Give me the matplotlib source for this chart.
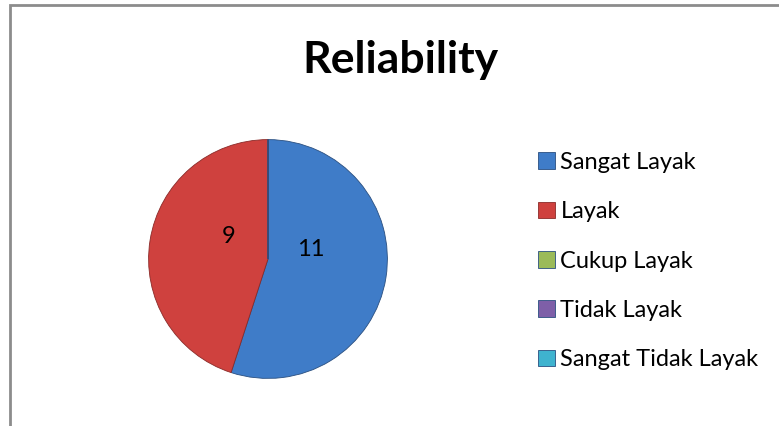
import matplotlib.pyplot as plt
from matplotlib.patches import Rectangle

labels = ['Sangat Layak', 'Layak', 'Cukup Layak', 'Tidak Layak', 'Sangat Tidak Layak']
values = [11, 9, 0, 0, 0]
colors = ['#3F7CC8', '#CF413E', '#9BBB59', '#7E5FA8', '#3FB3CF']
label_pos = [(0.36, 0.08), (-0.33, 0.19)]  # data label offsets inside the pie

plt.rcParams['font.family'] = ['Lato', 'DejaVu Sans']

fig = plt.figure(figsize=(7.79, 4.26), dpi=100)

# chart frame (only top/left edges visible in the crop)
fig.patches.append(Rectangle((10 / 779, -0.1), 1.1, (426 - 5) / 426 + 0.1,
                             transform=fig.transFigure, fill=False,
                             edgecolor='#8C8C8C', linewidth=2))

ax = fig.add_axes([148 / 779, 47 / 426, 240 / 779, 240 / 426])
wedges, _ = ax.pie(values, colors=colors, startangle=90, counterclock=False,
                   wedgeprops=dict(edgecolor='#2A4F80', linewidth=0.6))
wedges[1].set_edgecolor('#8A2A28')
ax.set_xlim(-1.005, 1.005)
ax.set_ylim(-1.005, 1.005)
ax.set_aspect('equal')

for (x, y), v in zip(label_pos, values):
    ax.text(x, y, str(v), ha='center', va='center', fontsize=17, color='black')

fig.text(400 / 779, 1 - 60 / 426, 'Reliability', ha='center', va='center',
         fontsize=32, fontweight='bold')

fig.legend(wedges, labels, loc='upper left', bbox_to_anchor=(538 / 779, 1 - 152 / 426),
           frameon=False, fontsize=17, handlelength=0.7, handleheight=0.7,
           handletextpad=0.25, labelspacing=1.2, borderaxespad=0, borderpad=0)

fig.savefig('out.png', dpi=100)
